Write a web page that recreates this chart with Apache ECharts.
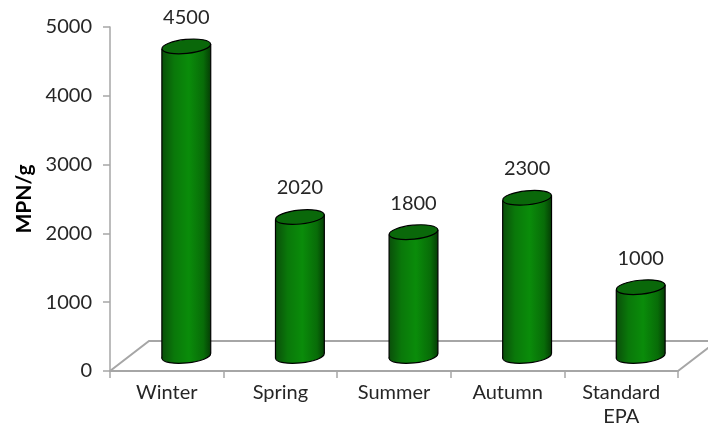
<!DOCTYPE html>
<html>
<head>
<meta charset="utf-8">
<script src="https://cdn.jsdelivr.net/npm/echarts@6/dist/echarts.min.js"></script>
<style>
html,body{margin:0;padding:0;background:#fff;}
#chart{width:708px;height:439px;}
</style>
</head>
<body>
<div id="chart"></div>
<script>
var categories = ['Winter', 'Spring', 'Summer', 'Autumn', 'Standard\nEPA'];
var values = [4500, 2020, 1800, 2300, 1000];
var yTicks = [0, 1000, 2000, 3000, 4000, 5000];
var yTitle = 'MPN/g';

var FONT = 'Lato';
var DEPTH_X = 39, DEPTH_Y = 30;
var GRAY = '#a6a6a6';

var chart = echarts.init(document.getElementById('chart'), null, {renderer: 'canvas'});

function floorRender(params, api) {
  var cs = params.coordSys;
  var x0 = cs.x, x1 = cs.x + cs.width, y0 = cs.y + cs.height;
  return {
    type: 'group',
    children: [{
      type: 'polyline',
      shape: {points: [[x0, y0], [x0 + DEPTH_X, y0 - DEPTH_Y], [x1 + DEPTH_X, y0 - DEPTH_Y], [x1, y0]]},
      style: {stroke: GRAY, lineWidth: 2, fill: null}
    }]
  };
}

function cylRender(params, api) {
  var idx = api.value(0), v = api.value(1);
  var top = api.coord([idx, v]);
  var base = api.coord([idx, 0]);
  var band = api.size([1, 0])[0];
  var rx = band * 0.215;
  var ry = 7;
  var cx = top[0] + DEPTH_X / 2;
  var ty = top[1] - DEPTH_Y / 2;
  var by = base[1] - DEPTH_Y / 2;
  var rot = 0.1;
  var s = rx * Math.sin(rot);
  var grad = new echarts.graphic.LinearGradient(0, 0, 1, 0, [
    {offset: 0, color: '#0a4f0a'},
    {offset: 0.25, color: '#0a780a'},
    {offset: 0.55, color: '#0a8c0a'},
    {offset: 0.85, color: '#086c08'},
    {offset: 1, color: '#053e05'}
  ]);
  return {
    type: 'group',
    children: [
      {
        type: 'ellipse',
        shape: {cx: cx, cy: by, rx: rx, ry: ry},
        rotation: rot, originX: cx, originY: by,
        style: {fill: grad, stroke: '#000', lineWidth: 1.2}
      },
      {
        type: 'polygon',
        shape: {points: [[cx - rx, ty + s], [cx - rx, by + s], [cx + rx, by - s], [cx + rx, ty - s]]},
        style: {fill: grad}
      },
      {
        type: 'line',
        shape: {x1: cx - rx, y1: ty + s, x2: cx - rx, y2: by + s},
        style: {stroke: '#000', lineWidth: 1.2}
      },
      {
        type: 'line',
        shape: {x1: cx + rx, y1: ty - s, x2: cx + rx, y2: by - s},
        style: {stroke: '#000', lineWidth: 1.2}
      },
      {
        type: 'ellipse',
        shape: {cx: cx, cy: ty, rx: rx, ry: ry},
        rotation: rot, originX: cx, originY: ty,
        style: {fill: '#0a680a', stroke: '#000', lineWidth: 1.2}
      },
      {
        type: 'text',
        x: cx, y: ty - 29,
        style: {text: String(v), fill: '#262626', font: '20px ' + FONT, align: 'center', verticalAlign: 'middle'}
      }
    ]
  };
}

var option = {
  animation: false,
  backgroundColor: '#fff',
  grid: {left: 110, right: 30, top: 27, bottom: 68, containLabel: false},
  xAxis: {
    type: 'category',
    data: categories,
    boundaryGap: true,
    axisLine: {show: true, lineStyle: {color: GRAY, width: 2}},
    axisTick: {show: true, alignWithLabel: false, length: 7, lineStyle: {color: GRAY, width: 1.5}},
    axisLabel: {color: '#262626', fontFamily: FONT, fontSize: 20, margin: 10, lineHeight: 24, interval: 0}
  },
  yAxis: {
    type: 'value',
    min: yTicks[0], max: yTicks[yTicks.length - 1], interval: 1000,
    name: yTitle,
    nameLocation: 'middle',
    nameGap: 72,
    nameRotate: 90,
    nameTextStyle: {fontFamily: FONT, fontWeight: 'bold', fontSize: 21, color: '#000'},
    axisLine: {show: true, lineStyle: {color: GRAY, width: 1.5}},
    axisTick: {show: true, length: 7, lineStyle: {color: GRAY, width: 1.5}},
    axisLabel: {color: '#262626', fontFamily: FONT, fontSize: 20, margin: 18,
      formatter: function (val) { return String(val); }},
    splitLine: {show: false}
  },
  series: [
    {
      type: 'custom',
      renderItem: floorRender,
      data: [[0, 0]],
      clip: false,
      z: 1,
      silent: true
    },
    {
      type: 'custom',
      renderItem: cylRender,
      data: values.map(function (v, i) { return [i, v]; }),
      clip: false,
      z: 5
    }
  ]
};
chart.setOption(option);
</script>
</body>
</html>
